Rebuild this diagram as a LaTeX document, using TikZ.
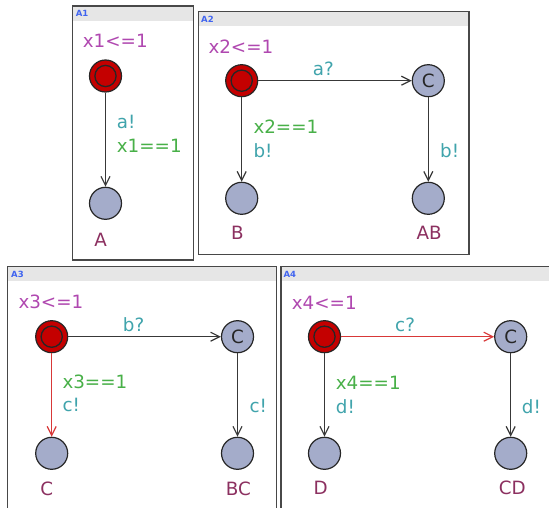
\documentclass[tikz,border=0pt]{standalone}
\usepackage{fontspec}
\setmainfont{DejaVu Sans}
\usetikzlibrary{arrows.meta}
\definecolor{invc}{RGB}{176,72,176}
\definecolor{syncc}{RGB}{64,164,172}
\definecolor{guardc}{RGB}{72,176,72}
\definecolor{namec}{RGB}{140,48,96}
\definecolor{headc}{RGB}{64,100,240}
\definecolor{locfill}{RGB}{164,172,202}
\definecolor{initfill}{RGB}{196,0,0}
\definecolor{rededge}{RGB}{216,56,56}
\definecolor{panelc}{RGB}{72,72,72}
\definecolor{headfill}{RGB}{230,230,230}
\tikzset{
  txt/.style={inner sep=0pt,anchor=base west,font=\fontsize{18.3pt}{22pt}\selectfont},
  inv/.style={txt,text=invc},
  sync/.style={txt,text=syncc},
  guard/.style={txt,text=guardc},
  lname/.style={txt,anchor=base,text=namec},
  head/.style={inner sep=0pt,anchor=base west,text=headc,font=\fontsize{8.5pt}{10pt}\selectfont\bfseries},
  loc/.style={circle,draw=black!85,line width=1.2pt,fill=locfill,minimum size=32pt,inner sep=0pt},
  comm/.style={loc,font=\fontsize{18.3pt}{22pt}\selectfont,text=black!85},
  initloc/.style={loc,fill=initfill},
  ring/.style={draw=black!85,line width=1.3pt},
  edge/.style={draw=black!78,line width=1.2pt,-{Straight Barb[length=9pt,width=9pt,line width=1.2pt]}},
  redge/.style={edge,draw=rededge},
  band/.style={fill=headfill},
  frame/.style={draw=panelc,line width=1.2pt}
}
\begin{document}
\begin{tikzpicture}[x=1pt,y=-1pt]
\useasboundingbox (0,0) rectangle (549,508);
\fill[white] (0,0) rectangle (549,508);
\clip (0,0) rectangle (549,508);
% panels
\fill[band] (72.5,6) rectangle (193.5,20.7);
\draw[frame] (72.5,6) rectangle (193.5,260);
\fill[band] (198.5,11.7) rectangle (469,26);
\draw[frame] (198.5,11.7) rectangle (469,254.3);
\fill[band] (7.5,266.7) rectangle (276.7,281.3);
\draw[frame] (7.5,266.7) rectangle (276.7,530);
\fill[band] (281,266.7) rectangle (570,281.3);
\draw[frame] (281,266.7) rectangle (570,530);
\node[head] (h1) at (75.7,16.7) {A1};
\node[head] (h2) at (201,22.7) {A2};
\node[head] (h3) at (11,277.7) {A3};
\node[head] (h4) at (283.3,277.7) {A4};
% A1
\node[initloc] (a1i) at (105.5,76) {};
\node[loc] (a1A) at (105.5,203.3) {};
\draw[ring] (a1i.center) circle (10.6pt);
\draw[edge] (a1i) -- (a1A);
\node[inv] (a1inv) at (82.7,47.7) {x1<=1};
\node[sync] (a1s) at (116.7,128.3) {a!};
\node[guard] (a1g) at (116.7,152.3) {x1==1};
\node[lname] (a1n) at (100.7,246) {A};
% A2
\node[initloc] (a2i) at (241.7,80.7) {};
\node[comm] (a2c) at (428.3,80.7) {C};
\node[loc] (a2B) at (241.7,198.3) {};
\node[loc] (a2AB) at (428.3,198.3) {};
\draw[ring] (a2i.center) circle (10.6pt);
\draw[edge] (a2i) -- (a2c);
\draw[edge] (a2i) -- (a2B);
\draw[edge] (a2c) -- (a2AB);
\node[inv] (a2inv) at (208.3,53.3) {x2<=1};
\node[sync] (a2s1) at (312.7,76) {a?};
\node[guard] (a2g) at (253.3,133.3) {x2==1};
\node[sync] (a2s2) at (253.3,157.7) {b!};
\node[sync] (a2s3) at (440,157.7) {b!};
\node[lname] (a2n1) at (237.3,239.3) {B};
\node[lname] (a2n2) at (429.2,239.3) {AB};
% A3
\node[initloc] (a3i) at (51.7,336.7) {};
\node[comm] (a3c) at (237.5,336.7) {C};
\node[loc] (a3C) at (51.7,453.3) {};
\node[loc] (a3BC) at (237.5,453.3) {};
\draw[ring] (a3i.center) circle (10.6pt);
\draw[edge] (a3i) -- (a3c);
\draw[redge] (a3i) -- (a3C);
\draw[edge] (a3c) -- (a3BC);
\node[inv] (a3inv) at (18.3,308.3) {x3<=1};
\node[sync] (a3s1) at (122.7,331.7) {b?};
\node[guard] (a3g) at (62.3,388.3) {x3==1};
\node[sync] (a3s2) at (62.3,411.7) {c!};
\node[sync] (a3s3) at (249.3,412.3) {c!};
\node[lname] (a3n1) at (46.7,495) {C};
\node[lname] (a3n2) at (238.3,495) {BC};
% A4
\node[initloc] (a4i) at (324.5,336.7) {};
\node[comm] (a4c) at (510.7,336.7) {C};
\node[loc] (a4D) at (324.5,453.3) {};
\node[loc] (a4CD) at (510.7,453.3) {};
\draw[ring] (a4i.center) circle (10.6pt);
\draw[redge] (a4i) -- (a4c);
\draw[edge] (a4i) -- (a4D);
\draw[edge] (a4c) -- (a4CD);
\node[inv] (a4inv) at (291.7,309) {x4<=1};
\node[sync] (a4s1) at (395,331.7) {c?};
\node[guard] (a4g) at (335.7,389.3) {x4==1};
\node[sync] (a4s2) at (335.7,413.3) {d!};
\node[sync] (a4s3) at (521.7,413.3) {d!};
\node[lname] (a4n1) at (320.7,494.3) {D};
\node[lname] (a4n2) at (512.3,494.3) {CD};
\end{tikzpicture}
\end{document}
